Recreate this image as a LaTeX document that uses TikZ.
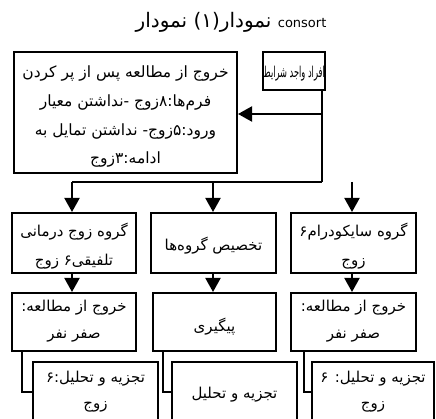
\documentclass[tikz,border=0pt]{standalone}
\usepackage{graphicx}
\usepackage{fontspec}
\setmainfont{DejaVu Sans}
\newfontfamily\arabicfont[Script=Arabic]{DejaVu Sans}
\TeXXeTstate=1
\usetikzlibrary{arrows.meta}
\newcommand{\rl}[1]{\beginR #1\endR}
\begin{document}
\begin{tikzpicture}[x=1pt,y=-1pt,
  boxn/.style={draw, line width=2pt, inner sep=0pt, align=center,
    font=\arabicfont\fontsize{15}{28}\selectfont},
  conn/.style={line width=2pt},
  arr/.style={line width=2pt, -{Triangle[length=14pt,width=15pt]}},
  elbow/.style={line width=1.6pt}]
\useasboundingbox (0,0) rectangle (436,419);
\clip (0,0) rectangle (436,419);

\node[font=\arabicfont\fontsize{20}{22}\selectfont] (title) at (231,22)
  {\rl{نمودار(۱) نمودار} {\fontsize{13}{14}\selectfont consort}};

\node[boxn, minimum width=62pt, minimum height=38pt, text height=22pt, text depth=8pt] (A) at (294,71)
  {\scalebox{0.55}[1]{\fontsize{15}{16}\selectfont\rl{افراد واجد شرایط}}};
\node[boxn, minimum width=223pt, minimum height=121pt, text height=112pt, text depth=9pt,
      font=\arabicfont\fontsize{15.5}{28.67}\selectfont] (B) at (125.5,112.5)
  {\rl{خروج از مطالعه پس از پر کردن}\\
   \rl{فرم‌ها:۸زوج -نداشتن معیار}\\
   \rl{ورود:۵زوج- نداشتن تمایل به}\\
   \rl{ادامه:۳زوج}};

\node[boxn, minimum width=124pt, minimum height=60pt, text height=53pt, text depth=7pt,
      font=\arabicfont\fontsize{15}{29}\selectfont] (L2) at (74,243)
  {\rl{گروه زوج درمانی}\\ \rl{تلفیقی۶ زوج}};
\node[boxn, minimum width=125pt, minimum height=60pt, text height=24pt, text depth=8pt] (M2) at (213.5,243)
  {\rl{تخصیص گروه‌ها}};
\node[boxn, minimum width=125pt, minimum height=60pt, text height=53pt, text depth=7pt,
      font=\arabicfont\fontsize{15}{29}\selectfont] (R2) at (353.5,243)
  {\rl{گروه سایکودرام۶}\\ \rl{زوج}};

\node[boxn, minimum width=124pt, minimum height=58pt, text height=40pt, text depth=8pt,
      font=\arabicfont\fontsize{15}{27}\selectfont] (L3) at (74,322)
  {\rl{خروج از مطالعه:}\\ \rl{صفر نفر}};
\node[boxn, minimum width=123pt, minimum height=58pt, text height=26pt, text depth=8pt] (M3) at (214.5,322)
  {\rl{پیگیری}};
\node[boxn, minimum width=125pt, minimum height=58pt, text height=40pt, text depth=8pt,
      font=\arabicfont\fontsize{15}{27}\selectfont] (R3) at (353.5,322)
  {\rl{خروج از مطالعه:}\\ \rl{صفر نفر}};

\node[boxn, minimum width=125pt, minimum height=60pt, text height=40pt, text depth=8pt,
      font=\arabicfont\fontsize{15}{26}\selectfont] (L4) at (95.5,392)
  {\rl{تجزیه و تحلیل:۶}\\ \rl{زوج}};
\node[boxn, minimum width=125pt, minimum height=60pt, text height=20pt, text depth=8pt] (M4) at (234.5,392)
  {\rl{تجزیه و تحلیل}};
\node[boxn, minimum width=122pt, minimum height=60pt, text height=40pt, text depth=8pt,
      font=\arabicfont\fontsize{15}{26}\selectfont] (R4) at (373,392)
  {\rl{تجزیه و تحلیل: ۶}\\ \rl{زوج}};

\coordinate (j) at (322,182);
\coordinate (a1) at (322,114);
\coordinate (jl) at (72,182);
\coordinate (jm) at (213,182);
\coordinate (jr) at (352,182);

\draw[conn] (A.south -| j) -- (j);
\draw[arr] (a1) -- (B.east |- a1);
\draw[conn] (jl) -- (j);
\draw[arr] (jl) -- (L2.north -| jl);
\draw[arr] (jm) -- (M2.north -| jm);
\draw[arr] (jr) -- (R2.north -| jr);

\draw[arr] (L2.south -| jl) -- (L3.north -| jl);
\draw[arr] (M2.south -| jm) -- (M3.north -| jm);
\draw[arr] (R2.south -| jr) -- (R3.north -| jr);

\coordinate (el) at (22,351);
\coordinate (em) at (163,351);
\coordinate (er) at (304,351);
\draw[elbow] (L3.south -| el) |- (L4.west);
\draw[elbow] (M3.south -| em) |- (M4.west);
\draw[elbow] (R3.south -| er) |- (R4.west);
\end{tikzpicture}
\end{document}
